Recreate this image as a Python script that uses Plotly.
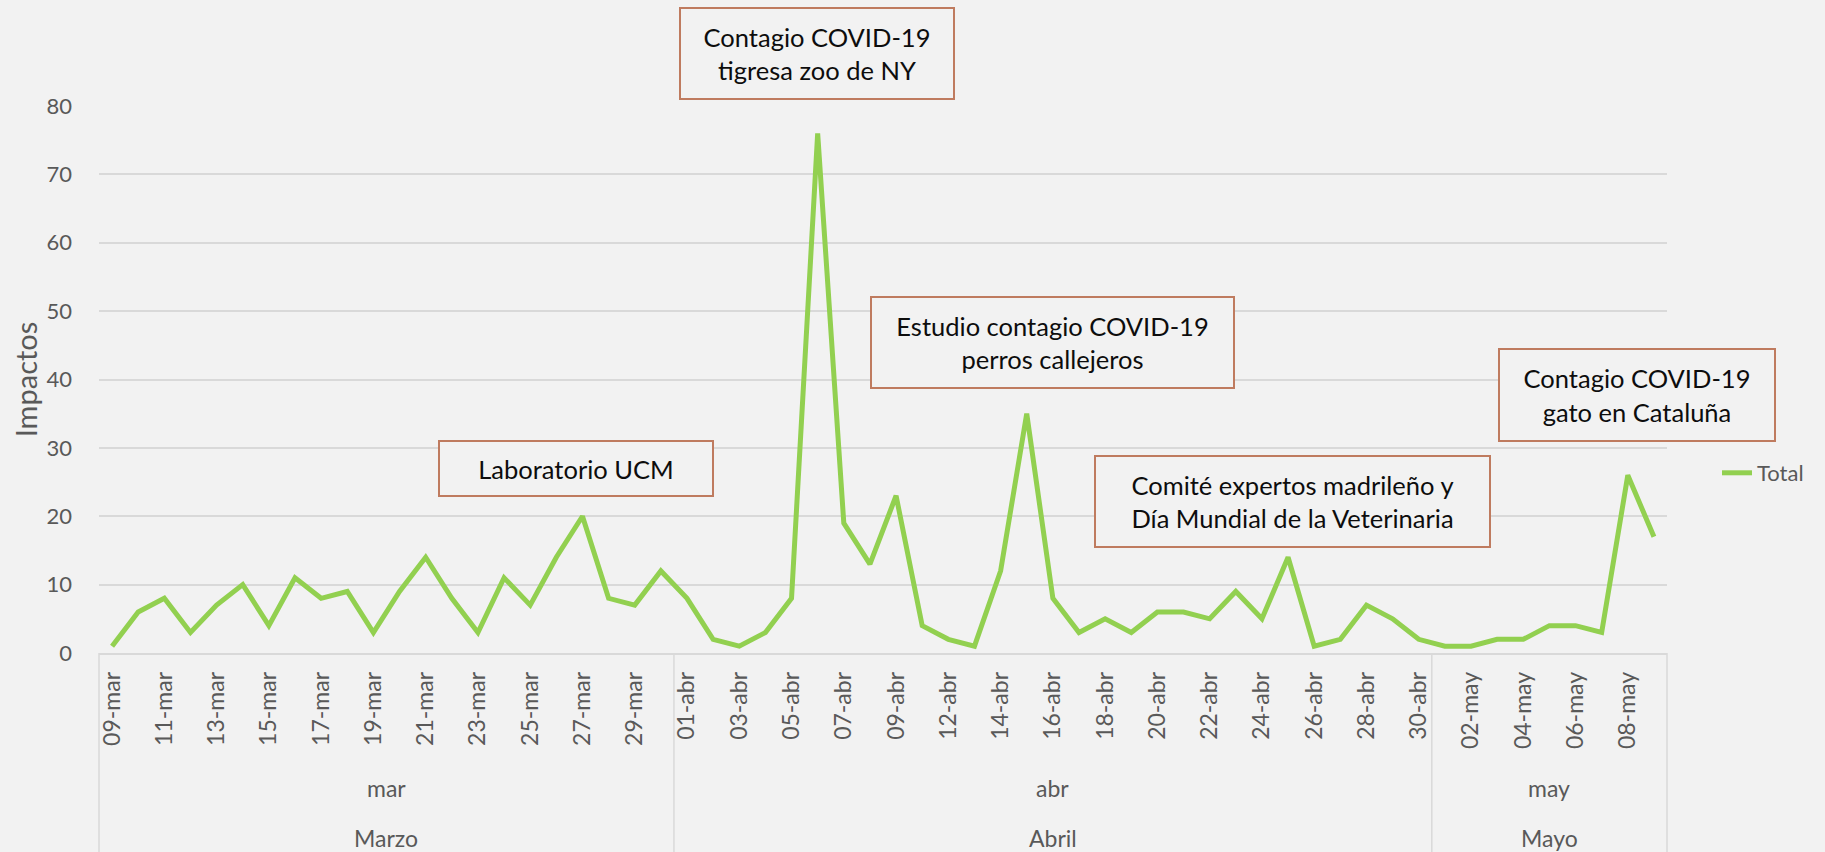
import plotly.graph_objects as go

# ---------------- data ----------------
fechas = (
    ["09-mar", "10-mar", "11-mar", "12-mar", "13-mar", "14-mar", "15-mar", "16-mar",
     "17-mar", "18-mar", "19-mar", "20-mar", "21-mar", "22-mar", "23-mar", "24-mar",
     "25-mar", "26-mar", "27-mar", "28-mar", "29-mar", "31-mar"]
    + ["01-abr", "02-abr", "03-abr", "04-abr", "05-abr", "06-abr", "07-abr", "08-abr",
       "09-abr", "10-abr", "12-abr", "13-abr", "14-abr", "15-abr", "16-abr", "17-abr",
       "18-abr", "19-abr", "20-abr", "21-abr", "22-abr", "23-abr", "24-abr", "25-abr",
       "26-abr", "27-abr", "28-abr", "29-abr", "30-abr"]
    + ["01-may", "02-may", "03-may", "04-may", "05-may", "06-may", "07-may", "08-may",
       "09-may"]
)
total = (
    [1, 6, 8, 3, 7, 10, 4, 11, 8, 9, 3, 9, 14, 8, 3, 11, 7, 14, 20, 8, 7, 12]
    + [8, 2, 1, 3, 8, 76, 19, 13, 23, 4, 2, 1, 12, 35, 8, 3, 5, 3, 6, 6, 5, 9, 5, 14,
       1, 2, 7, 5, 2]
    + [1, 1, 2, 2, 4, 4, 3, 26, 17]
)
meses_cortos = ["mar", "abr", "may"]
meses_largos = ["Marzo", "Abril", "Mayo"]
y_ticks = [0, 10, 20, 30, 40, 50, 60, 70, 80]
eventos = [
    "Contagio COVID-19<br>tigresa zoo de NY",
    "Estudio contagio COVID-19<br>perros callejeros",
    "Laboratorio UCM",
    "Comité expertos madrileño y<br>Día Mundial de la Veterinaria",
    "Contagio COVID-19<br>gato en Cataluña",
]

# ---------------- layout geometry ----------------
W, H = 1825, 852
PL, PR, PT, PB = 99, 1667, 106, 653
BG = "#F2F2F2"
GRID = "#D9D9D9"
TXT = "#595959"
FONT = "Lato"


def fx(px):
    return (px - PL) / (PR - PL)


def fy(py):
    return (PB - py) / (PB - PT)


N = len(fechas)

# month groups derived from the category labels
grupos = []
for i, f in enumerate(fechas):
    m = f.split("-")[1]
    if not grupos or grupos[-1][0] != m:
        grupos.append([m, i, i])
    else:
        grupos[-1][2] = i


def idx_to_paper(v):
    return (v + 0.5) / N


fig = go.Figure()
fig.add_trace(go.Scatter(
    x=fechas, y=total, mode="lines", name="Total",
    line=dict(color="#92D050", width=5),
))

annotations = []
shapes = []

# month / month-name labels and divider lines
for k, (m, i0, i1) in enumerate(grupos):
    c = idx_to_paper((i0 + i1) / 2)
    annotations.append(dict(x=c, y=fy(788), xref="paper", yref="paper",
                            xanchor="center", yanchor="middle",
                            text=meses_cortos[k], showarrow=False,
                            font=dict(family=FONT, size=23, color=TXT)))
    annotations.append(dict(x=c, y=fy(838), xref="paper", yref="paper",
                            xanchor="center", yanchor="middle",
                            text=meses_largos[k], showarrow=False,
                            font=dict(family=FONT, size=23, color=TXT)))
bounds = [grupos[0][1] - 0.5] + [g[2] + 0.5 for g in grupos]
for b in bounds:
    xp = idx_to_paper(b)
    shapes.append(dict(type="line", xref="paper", yref="paper",
                       x0=xp, x1=xp, y0=0, y1=fy(860),
                       line=dict(color=GRID, width=1.5)))

# event boxes (pixel boxes: left, top, right, bottom)
cajas = [
    (680, 8, 954, 99),
    (871, 297, 1234, 388),
    (439, 441, 713, 496),
    (1095, 456, 1490, 547),
    (1499, 349, 1775, 441),
]
for texto, (l, t, r, b) in zip(eventos, cajas):
    annotations.append(dict(
        x=fx((l + r) / 2), y=fy((t + b) / 2), xref="paper", yref="paper",
        text=texto, showarrow=False, xanchor="center", yanchor="middle",
        align="center", valign="middle",
        width=r - l - 2, height=b - t - 2,
        bordercolor="#BF7B5F", borderwidth=2, borderpad=0, bgcolor=BG,
        font=dict(family=FONT, size=25.5, color="#0D0D0D"),
    ))

fig.update_layout(
    width=W, height=H,
    paper_bgcolor=BG, plot_bgcolor=BG,
    margin=dict(l=PL, r=W - PR, t=PT, b=H - PB, autoexpand=False),
    font=dict(family=FONT, color=TXT),
    xaxis=dict(
        type="category", categoryorder="array", categoryarray=fechas,
        range=[-0.5, N - 0.5], tickmode="array",
        tickvals=fechas[::2], ticktext=fechas[::2],
        tickangle=-90, showgrid=False, showline=True, linecolor=GRID,
        linewidth=1.5, ticks="", ticklabelstandoff=8,
        tickfont=dict(family=FONT, size=23, color=TXT), automargin=False,
        fixedrange=True,
    ),
    yaxis=dict(
        range=[0, 80], tickmode="array", tickvals=y_ticks,
        showgrid=True, gridcolor=GRID, gridwidth=1.5, zeroline=False,
        showline=False, ticks="", ticklabelstandoff=26,
        tickfont=dict(family=FONT, size=22, color=TXT),
        title=dict(text="Impactos", font=dict(family=FONT, size=29, color=TXT),
                   standoff=0),
        automargin=False, fixedrange=True,
    ),
    showlegend=True,
    legend=dict(x=fx(1717), y=fy(473), xanchor="left", yanchor="middle",
                xref="paper", yref="paper", bgcolor="rgba(0,0,0,0)",
                font=dict(family=FONT, size=22, color=TXT), itemwidth=30),
    annotations=annotations,
    shapes=shapes,
)

fig.write_html(
    "out.html",
    config={"displayModeBar": False},
    post_script=(
        "document.body.style.margin='0';"
        "document.body.style.overflow='hidden';"
        "document.body.style.background='#F2F2F2';"
    ),
)
